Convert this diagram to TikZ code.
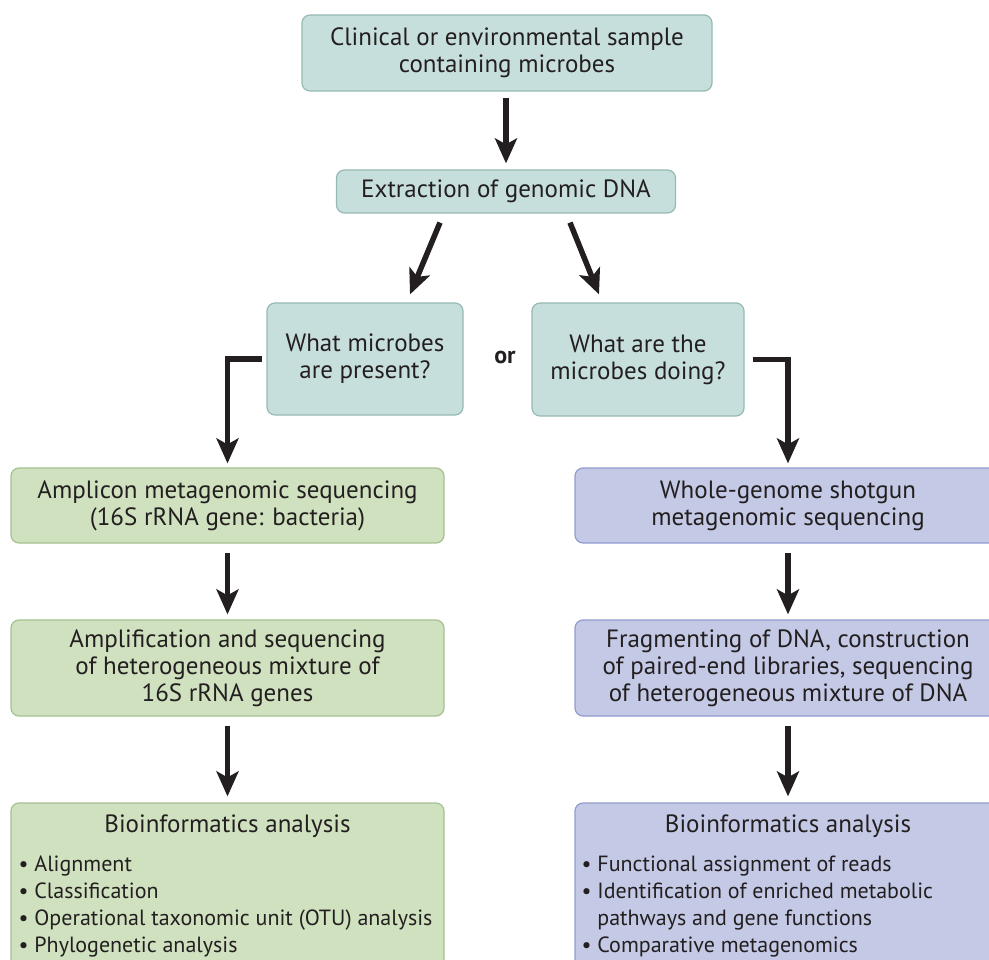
\documentclass[tikz,border=0pt]{standalone}
\usepackage{fontspec}
\setmainfont{PT Sans}
\usetikzlibrary{arrows.meta,calc,positioning}
\definecolor{tealfill}{RGB}{199,223,220}
\definecolor{tealline}{RGB}{150,185,180}
\definecolor{greenfill}{RGB}{208,225,191}
\definecolor{greenline}{RGB}{165,192,145}
\definecolor{bluefill}{RGB}{196,201,230}
\definecolor{blueline}{RGB}{145,155,205}
\definecolor{ink}{RGB}{35,31,32}
\tikzset{
  box/.style={draw, line width=1.2pt, rounded corners=8pt, inner sep=0pt,
    align=center, text=ink, font=\fontsize{25}{27}\selectfont},
  tealbox/.style={box, fill=tealfill, draw=tealline},
  greenbox/.style={box, fill=greenfill, draw=greenline},
  bluebox/.style={box, fill=bluefill, draw=blueline},
  arr/.style={line width=5.5pt, draw=ink,
    -{Stealth[length=25pt,width=22pt,inset=6pt]}},
  listtext/.style={align=left, inner sep=0pt, anchor=north west, text=ink,
    font=\fontsize{22}{27}\selectfont},
}
\begin{document}
\begin{tikzpicture}[x=1pt,y=-1pt]
\useasboundingbox (0,0) rectangle (989,960);
% question boxes
\node[tealbox, minimum width=410, minimum height=76] (sample) at (507,53)
  {Clinical or environmental sample\\containing microbes};
\node[tealbox, minimum width=339, minimum height=43] (extract) at (506,191.5)
  {Extraction of genomic DNA};
\node[tealbox, minimum width=196, minimum height=112] (qwhat) at (365,359)
  {What microbes\\are present?};
\node[tealbox, minimum width=212, minimum height=113] (qdoing) at (638,359.5)
  {What are the\\microbes doing?};
\node[text=ink, font=\fontsize{24}{27}\selectfont\bfseries] (orlabel) at (505,357) {or};
% amplicon side
\node[greenbox, minimum width=433, minimum height=75] (amplicon) at (227.5,505.5)
  {Amplicon metagenomic sequencing\\(16S rRNA gene: bacteria)};
\node[greenbox, minimum width=433, minimum height=96] (ampseq) at (227.5,668)
  {Amplification and sequencing\\of heterogeneous mixture of\\16S rRNA genes};
\node[greenbox, minimum width=433, minimum height=164] (bioL) at (227.5,885) {};
% shotgun side
\node[bluebox, minimum width=426, minimum height=75] (shotgun) at (788,505.5)
  {Whole-genome shotgun\\metagenomic sequencing};
\node[bluebox, minimum width=426, minimum height=96] (fragment) at (788,668)
  {Fragmenting of DNA, construction\\of paired-end libraries, sequencing\\of heterogeneous mixture of DNA};
\node[bluebox, minimum width=426, minimum height=164] (bioR) at (788,885) {};
% analysis texts
\node[text=ink, font=\fontsize{25}{27}\selectfont] (bioLtitle) at ($(bioL.north)+(0,24)$)
  {Bioinformatics analysis};
\node[listtext] (bioLlist) at ($(bioL.north west)+(8,53)$)
  {\textbullet\ Alignment\\
   \textbullet\ Classification\\
   \textbullet\ Operational taxonomic unit (OTU) analysis\\
   \textbullet\ Phylogenetic analysis};
\node[text=ink, font=\fontsize{25}{27}\selectfont] (bioRtitle) at ($(bioR.north)+(0,24)$)
  {Bioinformatics analysis};
\node[listtext] (bioRlist) at ($(bioR.north west)+(7,53)$)
  {\textbullet\ Functional assignment of reads\\
   \textbullet\ Identification of enriched metabolic\\
   \phantom{\textbullet\ }pathways and gene functions\\
   \textbullet\ Comparative metagenomics};
% arrows
\draw[arr, shorten <=6pt, shorten >=6pt] (sample.south -| extract.north) -- (extract.north);
\draw[arr] ($(extract.south)+(-66,9)$) -- ($(qwhat.north)+(45,-8)$);
\draw[arr] ($(extract.south)+(64,9)$) -- ($(qdoing.north)+(-39,-8)$);
\draw[arr, shorten <=4pt, shorten >=4pt] (qwhat.west) -| (amplicon.north);
\draw[arr, shorten <=8pt, shorten >=4pt] (qdoing.east) -| (shotgun.north);
\draw[arr, shorten <=9pt, shorten >=5pt] (amplicon.south) -- (ampseq.north);
\draw[arr, shorten <=9pt, shorten >=5pt] (shotgun.south) -- (fragment.north);
\draw[arr, shorten <=9pt, shorten >=6pt] (ampseq.south) -- (bioL.north);
\draw[arr, shorten <=9pt, shorten >=6pt] (fragment.south) -- (bioR.north);
\end{tikzpicture}
\end{document}
